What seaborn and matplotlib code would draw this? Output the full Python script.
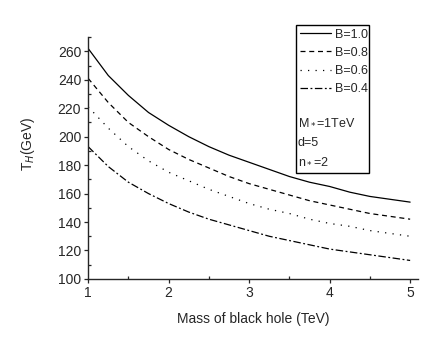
import pandas as pd
import matplotlib
matplotlib.use("Agg")
import matplotlib.pyplot as plt
from matplotlib.patches import Rectangle
from matplotlib.ticker import MultipleLocator
import seaborn as sns

# black hole mass (TeV) and Hawking temperature (GeV)
mass = [1.0, 1.25, 1.5, 1.75, 2.0, 2.25, 2.5, 2.75, 3.0,
        3.25, 3.5, 3.75, 4.0, 4.25, 4.5, 4.75, 5.0]
t_b10 = [262, 243, 229, 217, 208, 200, 193, 187, 182, 177, 172, 168, 165, 161, 158, 156, 154]
t_b08 = [241, 224, 210, 200, 191, 184, 178, 172, 167, 163, 159, 155, 152, 149, 146, 144, 142]
t_b06 = [221, 206, 193, 183, 175, 169, 163, 158, 153, 149, 146, 142, 139, 137, 134, 132, 130]
t_b04 = [193, 179, 168, 160, 153, 147, 142, 138, 134, 130, 127, 124, 121, 119, 117, 115, 113]
labels = ["B=1.0", "B=0.8", "B=0.6", "B=0.4"]

df = pd.concat([pd.DataFrame({"M": mass, "T": t, "B": lab})
                for lab, t in zip(labels, [t_b10, t_b08, t_b06, t_b04])])

sns.set_style("ticks")
plt.rcParams['font.family'] = ['Liberation Sans', 'DejaVu Sans']

fig = plt.figure(figsize=(4.43, 3.5), dpi=100)
ax = fig.add_axes([0.199, 0.203, 0.745, 0.691])

dashes = {"B=1.0": "", "B=0.8": (4, 3), "B=0.6": (1, 5), "B=0.4": (6, 2, 1.5, 2)}
sns.lineplot(data=df, x="M", y="T", hue="B", style="B", dashes=dashes,
             palette=["black"] * 4, linewidth=0.9, ax=ax, legend=False)

ax.set_xlim(1, 5.1)
ax.set_ylim(100, 270)
ax.set_xticks([1, 2, 3, 4, 5])
ax.set_yticks(range(100, 261, 20))
ax.xaxis.set_minor_locator(MultipleLocator(0.5))
ax.yaxis.set_minor_locator(MultipleLocator(10))
ax.tick_params(which="major", direction="out", length=3, width=0.9, labelsize=10, pad=2)
ax.tick_params(which="minor", direction="in", length=2.5, width=0.9)
sns.despine(ax=ax)
for s in ["left", "bottom"]:
    ax.spines[s].set_linewidth(1.0)

ax.set_xlabel("Mass of black hole (TeV)", fontsize=10, labelpad=9)
ax.set_ylabel("T$_H$(GeV)", fontsize=10)
ax.yaxis.set_label_coords(-0.155, 0.56)

# legend box
fig.patches.append(Rectangle((296 / 443, 1 - 173 / 350), 73 / 443, 148 / 350,
                             transform=fig.transFigure, fill=False,
                             edgecolor="black", linewidth=1.0))
handles = [plt.Line2D([], [], color="black", linewidth=0.9,
                      linestyle=(0, dashes[l]) if dashes[l] else "-") for l in labels]
fig.legend(handles, labels, loc="upper left", bbox_to_anchor=(297 / 443, 1 - 26 / 350),
           frameon=False, fontsize=9, handlelength=2.5, handletextpad=0.3,
           labelspacing=0.5, borderaxespad=0, borderpad=0.2)
fig.text(298 / 443, 1 - 122 / 350, "M$_*$=1TeV", fontsize=9, va="center")
fig.text(298 / 443, 1 - 143 / 350, "d=5", fontsize=9, va="center")
fig.text(298 / 443, 1 - 161 / 350, "n$_*$=2", fontsize=9, va="center")

fig.savefig("out.png", dpi=100)
